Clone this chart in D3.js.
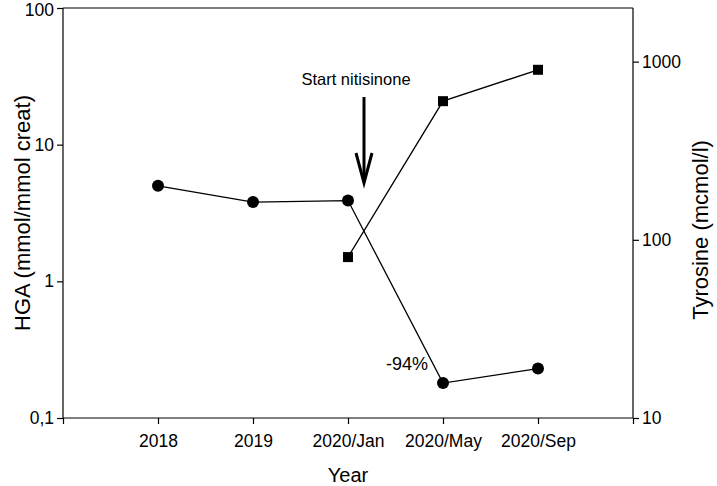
<!DOCTYPE html>
<html>
<head>
<meta charset="utf-8">
<script src="https://cdn.jsdelivr.net/npm/d3@7"></script>
<style>
  body { margin: 0; background: #fff; }
  text { font-family: "Liberation Sans", Arial, sans-serif; fill: #000; }
</style>
</head>
<body>
<div class="chart"></div>
<script>
// data
var categories = ["2018", "2019", "2020/Jan", "2020/May", "2020/Sep"];
var hgaValues = [5.0, 3.8, 3.9, 0.18, 0.23];
var tyrCategories = ["2020/Jan", "2020/May", "2020/Sep"];
var tyrValues = [80, 600, 900];
var leftTicks = [0.1, 1, 10, 100];
var leftTickLabels = ["0,1", "1", "10", "100"];
var rightTicks = [10, 100, 1000];

var svgWidth = 717;
var svgHeight = 486;
var margin = { top: 8, right: 84, bottom: 68, left: 63 };
var width = svgWidth - margin.left - margin.right;
var height = svgHeight - margin.top - margin.bottom;

var svg = d3.select(".chart")
  .append("svg")
  .attr("width", svgWidth)
  .attr("height", svgHeight);

var chartGroup = svg.append("g")
  .attr("transform", `translate(${margin.left}, ${margin.top})`);

// x positions: categories sit at 1..5 on a 0..6 axis
var xScale = d3.scaleLinear().domain([0, 6]).range([0, width]);
var xOf = c => xScale(categories.indexOf(c) + 1);

var yLeft = d3.scaleLog().domain([0.1, 100]).range([height, 0]);
var yRight = d3.scaleLog().domain([10, 2000]).range([height, 0]);

// frame top line
chartGroup.append("line")
  .attr("x1", 0).attr("x2", width)
  .attr("y1", 0).attr("y2", 0)
  .attr("stroke", "#000").attr("stroke-width", 1.2);

// bottom axis
var bottomAxis = d3.axisBottom(xScale)
  .tickValues([0, 1, 2, 3, 4, 5, 6])
  .tickSize(6)
  .tickPadding(11)
  .tickFormat(d => (d >= 1 && d <= 5) ? categories[d - 1] : "");
var xAxis = chartGroup.append("g")
  .attr("transform", `translate(0, ${height})`)
  .call(bottomAxis);

// left axis
var leftAxis = d3.axisLeft(yLeft)
  .tickValues(leftTicks)
  .tickSize(6)
  .tickPadding(3)
  .tickFormat((d, i) => leftTickLabels[i]);
var yAxis = chartGroup.append("g").call(leftAxis);

// right axis
var rightAxis = d3.axisRight(yRight)
  .tickValues(rightTicks)
  .tickSize(6)
  .tickPadding(3)
  .tickFormat(d3.format("d"));
var y2Axis = chartGroup.append("g")
  .attr("transform", `translate(${width}, 0)`)
  .call(rightAxis);

[xAxis, yAxis, y2Axis].forEach(function(ax) {
  ax.select(".domain").attr("stroke", "#000").attr("stroke-width", 1.2);
  ax.selectAll(".tick line").attr("stroke", "#000").attr("stroke-width", 1.2);
  ax.selectAll(".tick text")
    .attr("font-family", "Liberation Sans, Arial, sans-serif")
    .attr("font-size", "17.5px")
    .attr("fill", "#000");
});
xAxis.select(".domain").attr("d", `M0,0H${width}`);
yAxis.select(".domain").attr("d", `M0,0V${height}`);
y2Axis.select(".domain").attr("d", `M0,0V${height}`);

// keep the top "100" label inside the page
yAxis.selectAll(".tick text")
  .filter(d => d === 100)
  .attr("dy", "0.45em");

// HGA series (circles)
var hgaData = categories.map((c, i) => ({ cat: c, v: hgaValues[i] }));
chartGroup.append("path")
  .datum(hgaData)
  .attr("fill", "none")
  .attr("stroke", "#000")
  .attr("stroke-width", 1.3)
  .attr("d", d3.line().x(d => xOf(d.cat)).y(d => yLeft(d.v)));

chartGroup.selectAll("circle.hga")
  .data(hgaData)
  .enter()
  .append("circle")
  .attr("class", "hga")
  .attr("cx", d => xOf(d.cat))
  .attr("cy", d => yLeft(d.v))
  .attr("r", 6)
  .attr("fill", "#000");

// Tyrosine series (squares)
var tyrData = tyrCategories.map((c, i) => ({ cat: c, v: tyrValues[i] }));
chartGroup.append("path")
  .datum(tyrData)
  .attr("fill", "none")
  .attr("stroke", "#000")
  .attr("stroke-width", 1.3)
  .attr("d", d3.line().x(d => xOf(d.cat)).y(d => yRight(d.v)));

chartGroup.selectAll("rect.tyr")
  .data(tyrData)
  .enter()
  .append("rect")
  .attr("class", "tyr")
  .attr("x", d => xOf(d.cat) - 5)
  .attr("y", d => yRight(d.v) - 5)
  .attr("width", 10)
  .attr("height", 10)
  .attr("fill", "#000");

// annotation: start nitisinone arrow
var arrowX = xOf("2020/Jan") + 16;
var arrowTop = 89;
var arrowTip = 175;
chartGroup.append("line")
  .attr("x1", arrowX).attr("x2", arrowX)
  .attr("y1", arrowTop).attr("y2", arrowTip - 2)
  .attr("stroke", "#000").attr("stroke-width", 3);
chartGroup.append("path")
  .attr("d", `M${arrowX - 8},${arrowTip - 30} L${arrowX},${arrowTip} L${arrowX + 8},${arrowTip - 30}`)
  .attr("fill", "none")
  .attr("stroke", "#000")
  .attr("stroke-width", 3)
  .attr("stroke-linejoin", "miter");

chartGroup.append("text")
  .attr("x", arrowX - 8)
  .attr("y", 77)
  .attr("text-anchor", "middle")
  .attr("font-size", "16.5px")
  .text("Start nitisinone");

// -94% label
chartGroup.append("text")
  .attr("x", xOf("2020/May") - 36)
  .attr("y", yLeft(hgaValues[3]) - 13)
  .attr("text-anchor", "middle")
  .attr("font-size", "18px")
  .text("-94%");

// axis titles
svg.append("text")
  .attr("transform", "rotate(-90)")
  .attr("x", -(margin.top + height / 2))
  .attr("y", 30)
  .attr("text-anchor", "middle")
  .attr("font-size", "22px")
  .text("HGA (mmol/mmol creat)");

svg.append("text")
  .attr("transform", "rotate(-90)")
  .attr("x", -230)
  .attr("y", 708)
  .attr("text-anchor", "middle")
  .attr("font-size", "22px")
  .text("Tyrosine (mcmol/l)");

svg.append("text")
  .attr("x", margin.left + width / 2)
  .attr("y", 482)
  .attr("text-anchor", "middle")
  .attr("font-size", "20px")
  .text("Year");
</script>
</body>
</html>
